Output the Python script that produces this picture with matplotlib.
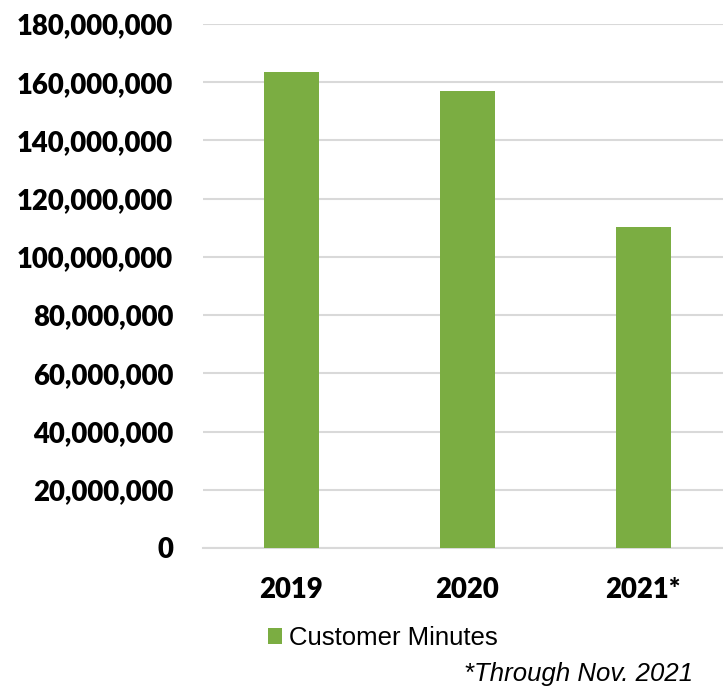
import matplotlib
matplotlib.use("Agg")
import matplotlib.pyplot as plt
from matplotlib.ticker import FuncFormatter
from matplotlib.patches import Patch

categories = ["2019", "2020", "2021*"]
customer_minutes = [163500000, 157000000, 110300000]
y_ticks = [0, 20000000, 40000000, 60000000, 80000000, 100000000,
           120000000, 140000000, 160000000, 180000000]
series_name = "Customer Minutes"
footnote = "*Through Nov. 2021"

W, H = 723, 690
fig = plt.figure(figsize=(W / 100, H / 100), dpi=100)
ax = fig.add_axes([203 / W, 1 - 548 / H, 528 / W, 524 / H])

bar_color = "#7BAD42"
grid_color = "#D9D9D9"

x = list(range(len(categories)))
ax.bar(x, customer_minutes, width=0.3125, color=bar_color, zorder=3)

ax.set_xlim(-0.5, len(categories) - 0.5)
ax.set_ylim(0, 180000000)
ax.set_yticks(y_ticks)
ax.yaxis.set_major_formatter(FuncFormatter(lambda v, p: f"{int(v):,}"))
ax.set_xticks(x)
ax.set_xticklabels(categories)

ax.grid(axis="y", color=grid_color, linewidth=1.5, zorder=0)
for s in ["top", "right", "left"]:
    ax.spines[s].set_visible(False)
ax.spines["bottom"].set_color(grid_color)
ax.spines["bottom"].set_linewidth(1.5)
ax.tick_params(axis="both", length=0)
ax.tick_params(axis="y", pad=21.5)
ax.tick_params(axis="x", pad=21)

for lab in ax.get_yticklabels() + ax.get_xticklabels():
    lab.set_fontfamily(["Lato", "DejaVu Sans"])
    lab.set_fontweight("heavy")
    lab.set_fontsize(19.8)
    lab.set_color("black")

handle = Patch(facecolor=bar_color, edgecolor="none")
fig.legend([handle], [series_name], loc="center",
           bbox_to_anchor=(383 / W, 1 - 638 / H), frameon=False,
           prop=dict(family=["Liberation Sans", "DejaVu Sans"], size=18.5),
           handlelength=0.55, handleheight=0.55, handletextpad=0.25,
           borderpad=0, borderaxespad=0)

fig.text(693 / W, 1 - 674 / H, footnote, ha="right", va="center",
         style="italic", family=["Liberation Sans", "DejaVu Sans"], size=18.5)

fig.savefig("out.png", dpi=100)
